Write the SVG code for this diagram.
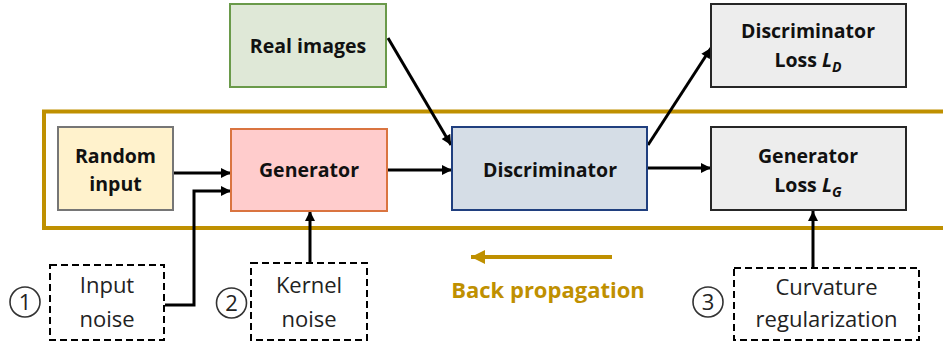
<svg xmlns="http://www.w3.org/2000/svg" width="943" height="345" viewBox="0 0 943 345">
<style>
.b{font-family:"Open Sans","Liberation Sans",sans-serif;font-weight:bold;font-size:19.5px;fill:#111;text-anchor:middle}
.r{font-family:"Open Sans","Liberation Sans",sans-serif;font-size:22px;fill:#222;text-anchor:middle}
.c{fill:none;stroke:#000;stroke-width:3}
.d{fill:none;stroke:#000;stroke-width:2;stroke-dasharray:7,4}
.n{fill:#fff;stroke:#333;stroke-width:1.6}
</style>
<defs>
<marker id="ah" viewBox="0 0 10 10" refX="10" refY="5" markerWidth="11" markerHeight="10" markerUnits="userSpaceOnUse" orient="auto"><path d="M0,0 L10,5 L0,10 z" fill="#000"/></marker>
<marker id="gh" viewBox="0 0 10 10" refX="10" refY="5" markerWidth="14" markerHeight="14" markerUnits="userSpaceOnUse" orient="auto"><path d="M0,0 L10,5 L0,10 z" fill="#BF9000"/></marker>
</defs>
<rect width="943" height="345" fill="#fff"/>
<g id="frame"><rect x="44" y="111.5" width="940" height="116.5" fill="none" stroke="#BF9000" stroke-width="4"/></g>
<g id="connectors">
<line class="c" x1="174" y1="173" x2="231" y2="173" marker-end="url(#ah)"/>
<polyline class="c" points="165,305 194,305 194,191 231,191" marker-end="url(#ah)"/>
<line class="c" x1="310" y1="263" x2="310" y2="211" marker-end="url(#ah)"/>
<line class="c" x1="388" y1="170" x2="452" y2="170" marker-end="url(#ah)"/>
<line class="c" x1="388" y1="38" x2="451" y2="145" marker-end="url(#ah)"/>
<line class="c" x1="648" y1="145" x2="711" y2="48" marker-end="url(#ah)"/>
<line class="c" x1="648" y1="168" x2="711" y2="168" marker-end="url(#ah)"/>
<line class="c" x1="813" y1="268" x2="813" y2="211" marker-end="url(#ah)"/>
<line x1="612" y1="257" x2="471" y2="257" stroke="#BF9000" stroke-width="4" marker-end="url(#gh)"/>
</g>
<g id="random-input"><rect x="58" y="127" width="115" height="83" fill="#FFF2CC" stroke="#767676" stroke-width="2"/><text class="b" x="115.5" y="163">Random</text><text class="b" x="115.5" y="191">input</text></g>
<g id="generator"><rect x="231" y="129" width="156" height="82" fill="#FFCCCC" stroke="#DA7440" stroke-width="2"/><text class="b" x="309" y="177">Generator</text></g>
<g id="real-images"><rect x="230" y="4" width="156" height="83" fill="#DFE8D7" stroke="#6A9A4A" stroke-width="2"/><text class="b" x="308" y="53">Real images</text></g>
<g id="discriminator"><rect x="452" y="127" width="195" height="83" fill="#D5DDE6" stroke="#203F7F" stroke-width="2"/><text class="b" x="550" y="177">Discriminator</text></g>
<g id="d-loss"><rect x="711" y="4" width="195" height="83" fill="#EDEDED" stroke="#262626" stroke-width="2"/><text class="b" x="808" y="38">Discriminator</text><text class="b" x="808" y="67">Loss <tspan font-style="italic">L</tspan><tspan font-style="italic" font-size="14" dy="5">D</tspan></text></g>
<g id="g-loss"><rect x="711" y="127" width="195" height="83" fill="#EDEDED" stroke="#262626" stroke-width="2"/><text class="b" x="808" y="163">Generator</text><text class="b" x="808" y="192">Loss <tspan font-style="italic">L</tspan><tspan font-style="italic" font-size="14" dy="5">G</tspan></text></g>
<g id="input-noise"><rect class="d" x="50" y="265" width="114" height="75"/><text class="r" x="107" y="293">Input</text><text class="r" x="107" y="327">noise</text><circle class="n" cx="25" cy="302" r="15"/><text class="r" x="25" y="310">1</text></g>
<g id="kernel-noise"><rect class="d" x="251" y="263" width="116" height="77"/><text class="r" x="309" y="293">Kernel</text><text class="r" x="309" y="327">noise</text><circle class="n" cx="231.5" cy="303" r="15"/><text class="r" x="231.5" y="311">2</text></g>
<g id="curvature"><rect class="d" x="734" y="268" width="185" height="72"/><text class="r" x="826.5" y="295">Curvature</text><text class="r" x="826.5" y="327">regularization</text><circle class="n" cx="708" cy="302" r="15"/><text class="r" x="708" y="310">3</text></g>
<g id="backprop"><text x="548" y="298" font-family="'Open Sans','Liberation Sans',sans-serif" font-weight="bold" font-size="22" fill="#BF9000" text-anchor="middle">Back propagation</text></g>
</svg>
